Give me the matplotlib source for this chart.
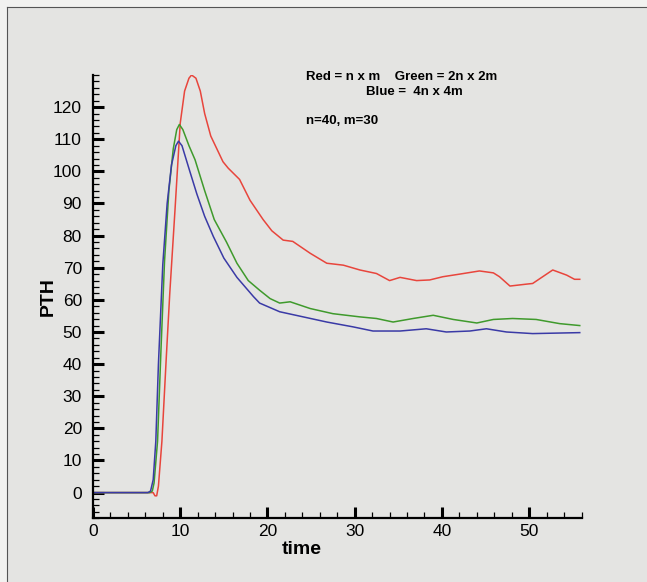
import numpy as np
import matplotlib
matplotlib.use("Agg")
import matplotlib.pyplot as plt
from matplotlib.lines import Line2D
from matplotlib.ticker import MultipleLocator

plt.rcParams['font.family'] = ['Liberation Sans', 'DejaVu Sans']

t_red = [0, 6.9, 7.1, 7.3, 7.5, 7.9, 8.4, 8.8, 9.4, 10.0, 10.5, 11.0, 11.3, 11.8, 12.3, 12.8,
         13.5, 14.2, 14.9, 15.5, 16.8, 18.0, 19.5, 20.5, 21.8, 22.9, 24.9, 26.8, 28.7, 30.6,
         32.5, 34.0, 35.2, 37.1, 38.6, 40.1, 42.0, 44.3, 45.9, 46.6, 47.8, 49.7, 50.4, 52.7,
         54.3, 55.2, 55.8]
pth_red = [0, 0, -1, -1, 2, 16, 42, 62, 88, 115, 125, 129, 130, 129, 125, 118,
           111, 107, 103, 101, 97.5, 91, 85, 81.5, 78.6, 78.2, 74.5, 71.4, 70.8, 69.3,
           68.2, 66, 67, 66, 66.2, 67.2, 68, 69, 68.4, 67.2, 64.3, 64.9, 65.1, 69.3,
           67.7, 66.4, 66.4]

t_green = [0, 6.5, 6.8, 7.0, 7.4, 7.8, 8.2, 8.7, 9.2, 9.6, 9.9, 10.3, 11.0, 11.7, 12.8, 13.9,
           15.3, 16.5, 17.8, 19.1, 20.3, 21.4, 22.6, 24.9, 27.5, 30.6, 32.5, 34.4, 36.7, 39.0,
           41.3, 44.0, 45.9, 48.1, 50.8, 53.5, 55.8]
pth_green = [0, 0, 0.5, 3, 16, 45, 72, 94, 107, 113, 114.6, 113, 108, 103.6, 94, 85,
             78, 71.4, 66, 63, 60.4, 59, 59.4, 57.3, 55.7, 54.7, 54.2, 53.1, 54.2, 55.2,
             53.9, 52.8, 53.9, 54.2, 53.9, 52.6, 52]

t_blue = [0, 6.3, 6.6, 6.9, 7.2, 7.5, 8.0, 8.5, 9.0, 9.5, 9.8, 10.2, 11.1, 11.9, 12.8, 13.8,
          15.0, 16.5, 18.4, 19.1, 21.4, 24.1, 26.8, 29.8, 32.1, 35.2, 38.2, 40.5, 43.2,
          45.1, 47.4, 50.4, 55.8]
pth_blue = [0, 0, 0.5, 4, 16, 40, 71, 90, 102, 108, 109.4, 108, 100, 93, 86, 79.7,
            73, 67, 61, 59, 56.3, 54.7, 53.1, 51.6, 50.3, 50.3, 51, 50, 50.3,
            51, 50, 49.5, 49.8]

W, H = 647, 582
bg = '#e4e4e2'
fig = plt.figure(figsize=(W / 100, H / 100), dpi=100, facecolor='#f2f2f0')
fig.patches.append(plt.Rectangle((7 / W, 0), 1, 1 - 7 / H, transform=fig.transFigure,
                                 facecolor=bg, edgecolor='none', zorder=-1))
fig.add_artist(Line2D([7 / W, 7 / W], [0, 1 - 7 / H], color='#555555', lw=0.8))
fig.add_artist(Line2D([7 / W, 1], [1 - 7 / H, 1 - 7 / H], color='#555555', lw=0.8))

ax = fig.add_axes([93 / W, 1 - 518.3 / H, (581.5 - 93) / W, (518.3 - 75) / H])
ax.set_facecolor(bg)
ax.patch.set_alpha(0)

ax.plot(t_red, pth_red, color='#e8453c', lw=1.1)
ax.plot(t_green, pth_green, color='#3f9a2c', lw=1.1)
ax.plot(t_blue, pth_blue, color='#3a3aa6', lw=1.1)

ax.set_xlim(0, 56)
ax.set_ylim(-8, 130)
ax.xaxis.set_minor_locator(MultipleLocator(2))
ax.yaxis.set_minor_locator(MultipleLocator(2))
ax.set_xticks(range(0, 51, 10))
ax.set_yticks(range(0, 121, 10))

for s in ['top', 'right']:
    ax.spines[s].set_visible(False)
for s in ['left', 'bottom']:
    ax.spines[s].set_linewidth(1.6)

ax.tick_params(which='major', direction='in', length=8, width=2.2, labelsize=12.5, color='black')
ax.tick_params(which='minor', direction='in', length=4.5, width=0.9, color='black')
ax.tick_params(axis='y', which='major', pad=8)
ax.tick_params(axis='x', which='major', pad=4)

ax.set_ylabel('PTH', fontsize=14, fontweight='bold', labelpad=-3)
fig.text(302 / W, 1 - 549 / H, 'time', fontsize=14, fontweight='bold', ha='center', va='center')

fig.text(306 / W, 1 - 77 / H, 'Red = n x m    Green = 2n x 2m', fontsize=9.5, fontweight='bold',
         ha='left', va='center')
fig.text(366 / W, 1 - 92 / H, 'Blue =  4n x 4m', fontsize=9.5, fontweight='bold', ha='left', va='center')
fig.text(306 / W, 1 - 121 / H, 'n=40, m=30', fontsize=9.5, fontweight='bold', ha='left', va='center')

fig.savefig('out.png', dpi=100, facecolor=fig.get_facecolor())
